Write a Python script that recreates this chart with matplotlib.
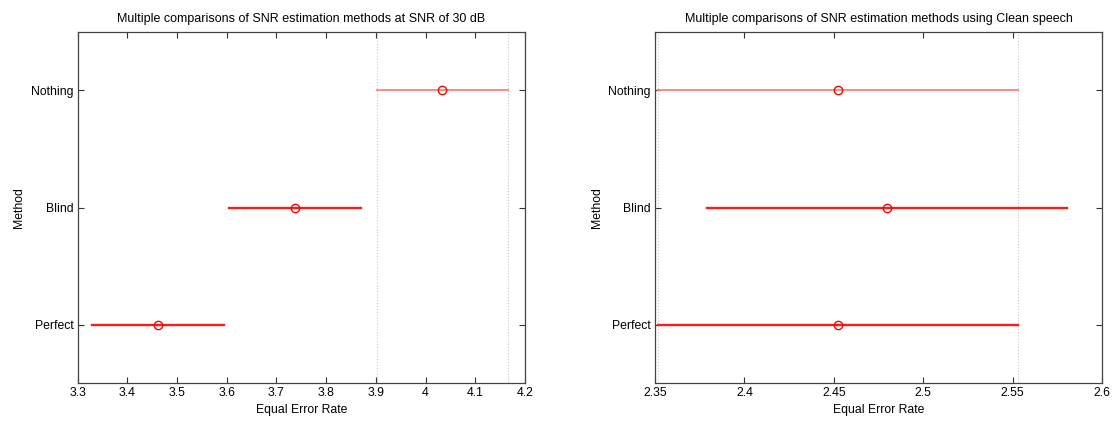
import numpy as np
import matplotlib
matplotlib.use("Agg")
import matplotlib.pyplot as plt

plt.rcParams['font.family'] = ['Liberation Sans', 'DejaVu Sans']

methods = ["Perfect", "Blind", "Nothing"]

# SNR of 30 dB
means_30 = [3.4616, 3.737, 4.034]
halfw_30 = [0.132, 0.1325, 0.1315]

# clean speech
means_clean = [2.4524, 2.4797, 2.4524]
halfw_clean = [0.1005, 0.1006, 0.1005]

titles = ["Multiple comparisons of SNR estimation methods at SNR of 30 dB",
          "Multiple comparisons of SNR estimation methods using Clean speech"]
xlims = [(3.3, 4.2), (2.35, 2.6)]
xticks = [[3.3, 3.4, 3.5, 3.6, 3.7, 3.8, 3.9, 4.0, 4.1, 4.2],
          [2.35, 2.4, 2.45, 2.5, 2.55, 2.6]]
xticklabels = [["3.3", "3.4", "3.5", "3.6", "3.7", "3.8", "3.9", "4", "4.1", "4.2"],
               ["2.35", "2.4", "2.45", "2.5", "2.55", "2.6"]]


def draw(ax, means, halfw, title, xlim, ticks, labels):
    y = np.arange(1, len(methods) + 1)
    sel = len(methods) - 1  # "Nothing" is the highlighted group
    lo = means[sel] - halfw[sel]
    hi = means[sel] + halfw[sel]
    ax.axvline(lo, color="#c8c8c8", ls=":", lw=0.8, zorder=1)
    ax.axvline(hi, color="#c8c8c8", ls=":", lw=0.8, zorder=1)
    for i in range(len(methods)):
        if i == sel:
            col, lw = "#ff7f7f", 1.3
        else:
            col, lw = "#ff1a1a", 1.7
        ax.plot([means[i] - halfw[i], means[i] + halfw[i]], [y[i], y[i]],
                color=col, lw=lw, zorder=2)
        ax.plot(means[i], y[i], "o", mfc="none", mec="red", ms=6, mew=1.0, zorder=3)
    ax.set_xlim(*xlim)
    ax.set_ylim(0.5, 3.5)
    ax.set_xticks(ticks)
    ax.set_xticklabels(labels)
    ax.set_yticks(y)
    ax.set_yticklabels(methods)
    ax.tick_params(direction="in", top=True, right=True, length=4, labelsize=8.8,
                   color="#333333", pad=3)
    for s in ax.spines.values():
        s.set_color("#444444")
        s.set_linewidth(0.9)
    ax.set_title(title, fontsize=9, pad=7)
    ax.set_xlabel("Equal Error Rate", fontsize=8.8, labelpad=3)
    ax.set_ylabel("Method", fontsize=8.8)


fig = plt.figure(figsize=(11.13, 4.21), dpi=100)
ax1 = fig.add_axes([0.0698, 0.0895, 0.4019, 0.8352])
ax2 = fig.add_axes([0.5885, 0.0895, 0.4016, 0.8352])

draw(ax1, means_30, halfw_30, titles[0], xlims[0], xticks[0], xticklabels[0])
draw(ax2, means_clean, halfw_clean, titles[1], xlims[1], xticks[1], xticklabels[1])

fig.savefig("out.png", dpi=100)
